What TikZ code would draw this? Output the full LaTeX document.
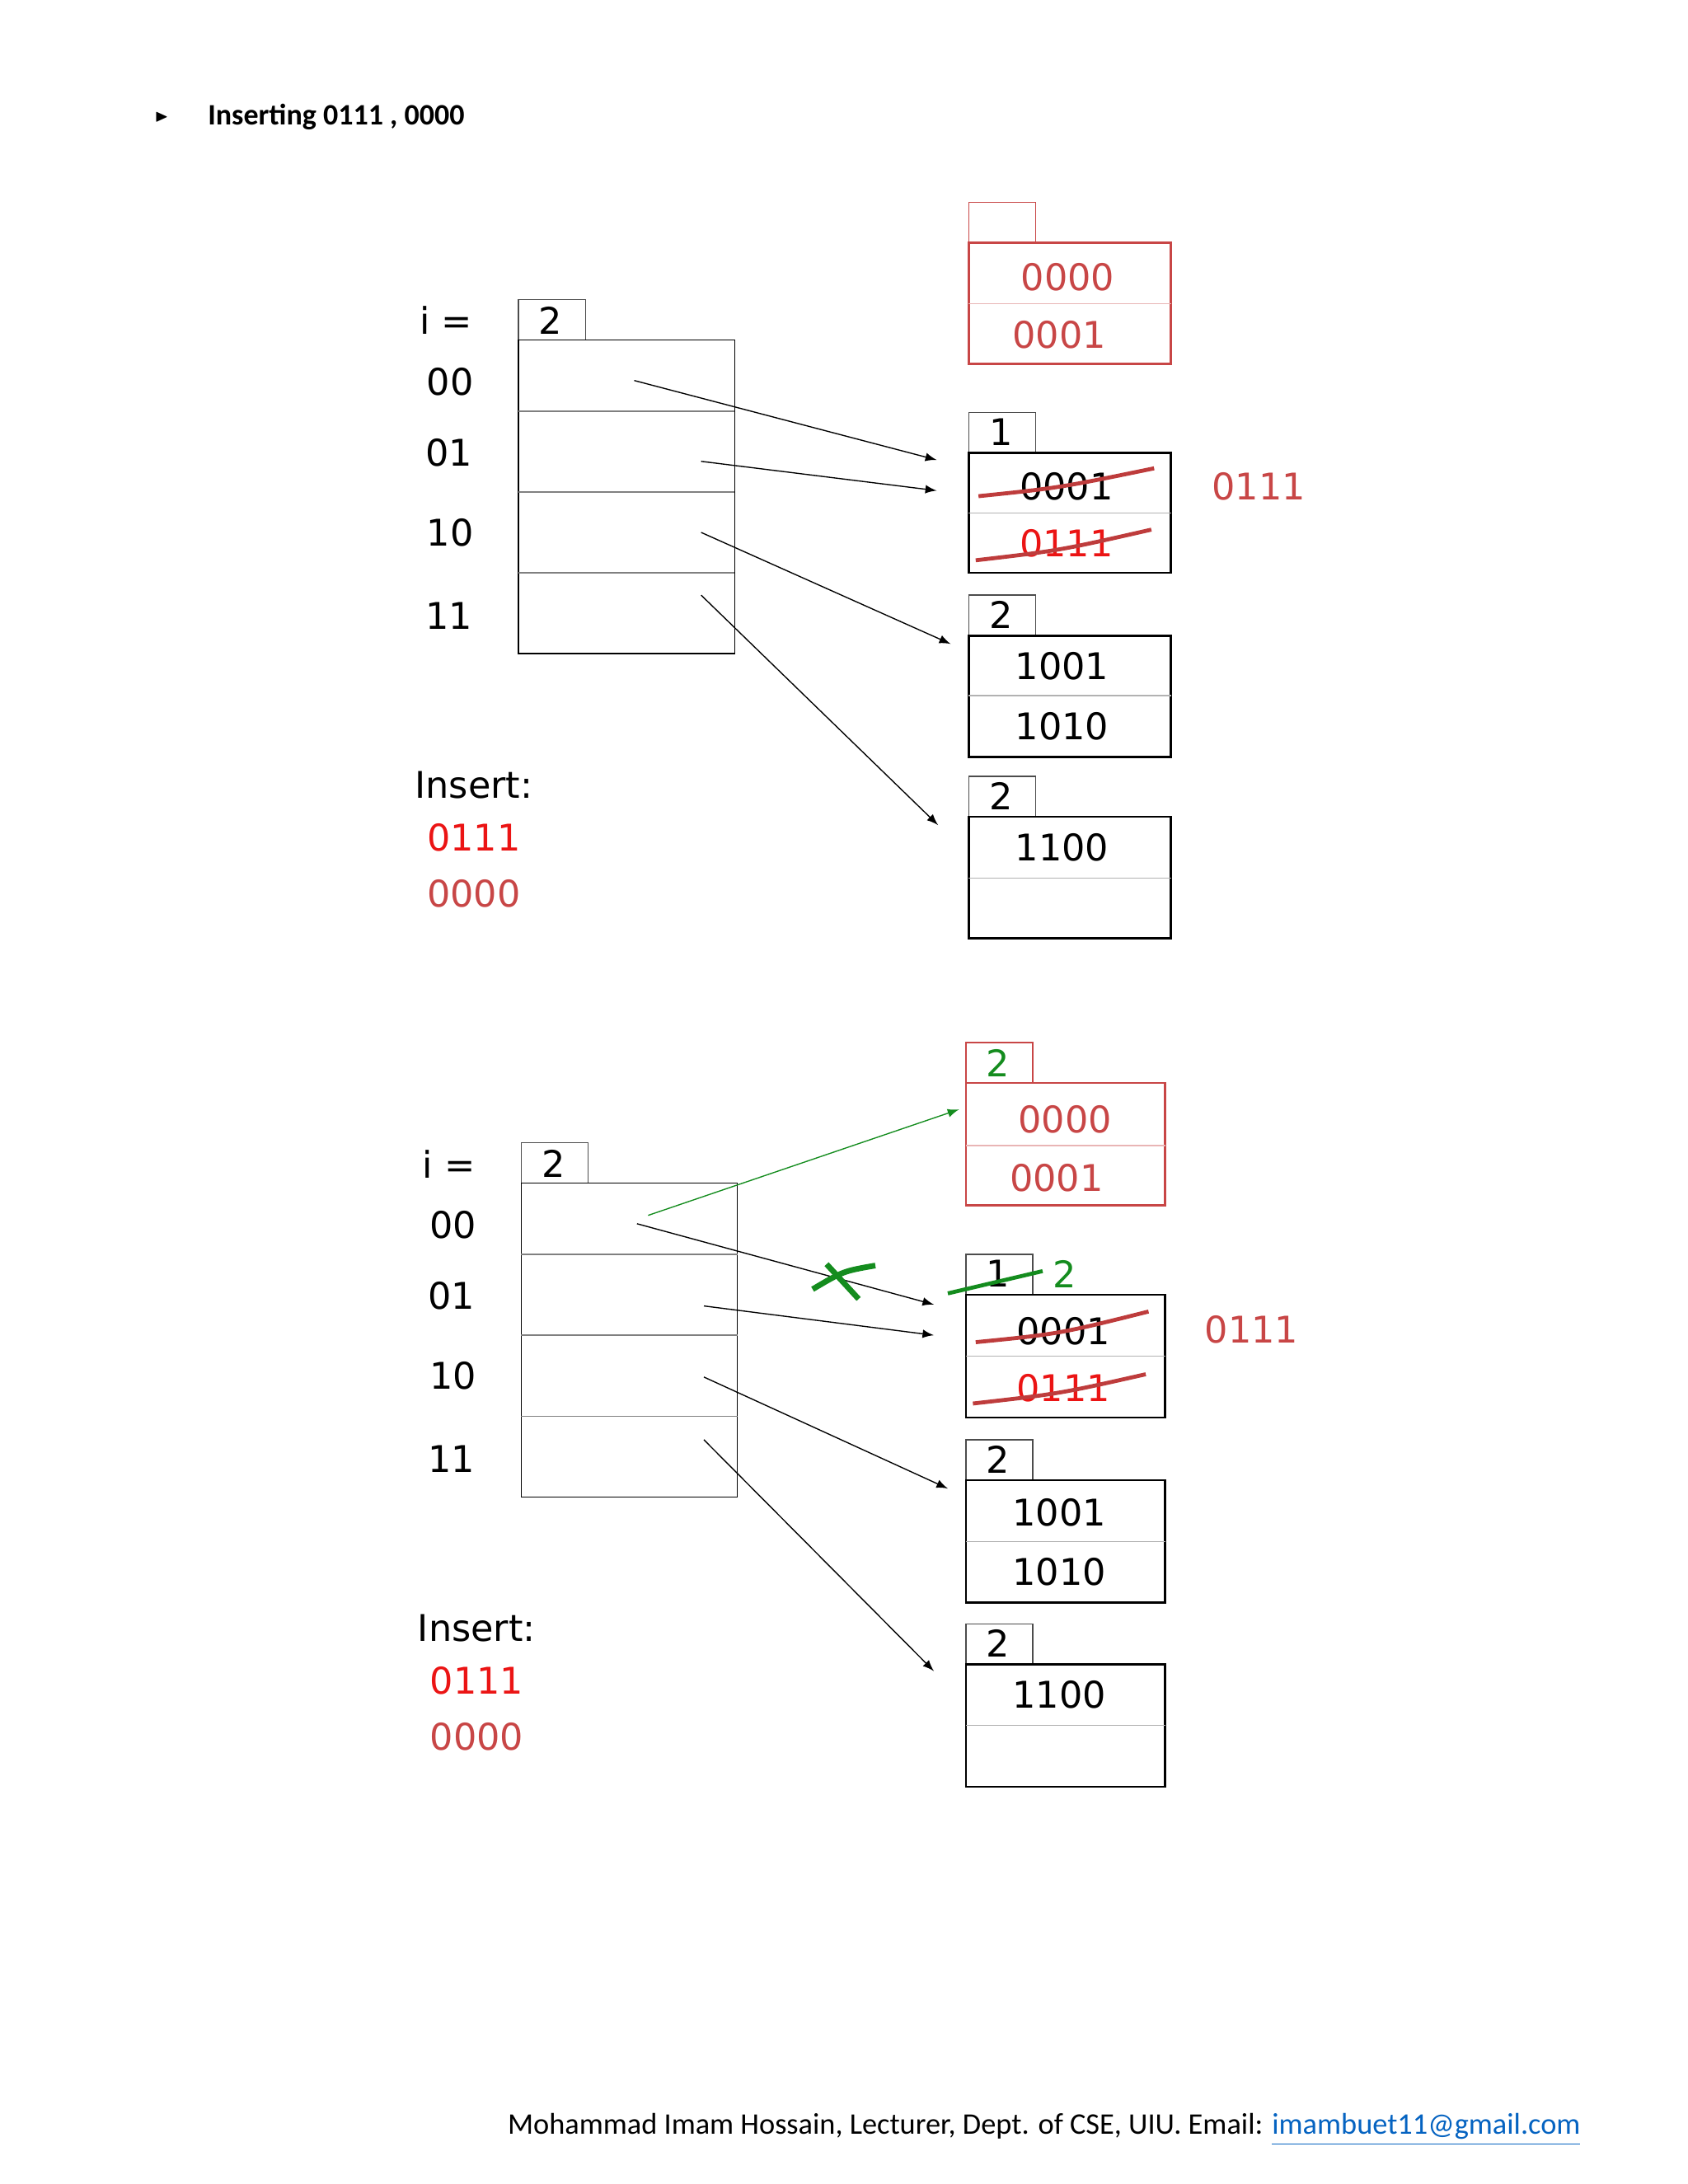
\documentclass[tikz,border=0pt]{standalone}
\usepackage{fontspec}
\usepackage{amssymb}
\setmainfont{DejaVu Sans}
\newfontfamily\calfont{Carlito}
\usetikzlibrary{positioning}
\definecolor{pinkred}{RGB}{200,70,70}
\definecolor{brightred}{RGB}{235,20,20}
\definecolor{penred}{RGB}{190,60,60}
\definecolor{pengreen}{RGB}{20,140,30}
\definecolor{linkblue}{RGB}{5,99,193}
\tikzset{
  digit/.style = {font=\fontsize{13}{15}\selectfont, inner sep=0pt},
  hdr/.style = {draw=black!70, thin},
  cell/.style = {draw=black, thick},
  redcell/.style = {draw=pinkred, thick},
  ptr/.style = {-latex, thin},
  stroke/.style = {line width=1.4pt, penred},
}
\begin{document}
\begin{tikzpicture}[x=0.01734cm, y=-0.01734cm]
\useasboundingbox (0,0) rectangle (1211,1567);
% title
\node[font=\tiny] (bul) at (116,84) {$\blacktriangleright$};
\node[font=\calfont\bfseries\fontsize{10.5}{13}\selectfont, anchor=west] (title) at (142,84) {Inserting 0111 , 0000};

\foreach \dy/\dx in {0/0, 1/1} {
  \begin{scope}[yshift={-\dy*605*0.01734cm}, xshift={\dx*2*0.01734cm}]
  % directory
  \node[digit] (ieq\dy) at (320,230) {i =};
  \draw[hdr] (372,215) rectangle (420,244);
  \node[digit] (gd\dy) at (395,230) {2};
  \draw[black] (372,244) rectangle (527,469);
  \foreach \yy in {295,353,411} \draw[black!50] (372,\yy) -- (527,\yy);
  \node[digit] (l00\dy) at (323,274) {00};
  \node[digit] (l01\dy) at (322,325) {01};
  \node[digit] (l10\dy) at (323,382) {10};
  \node[digit] (l11\dy) at (322,442) {11};
  % insert list
  \node[digit] (ins\dy) at (340,563) {Insert:};
  \node[digit, brightred] (k1\dy) at (340,601) {0111};
  \node[digit, pinkred] (k2\dy) at (340,641) {0000};
  \end{scope}
}

% buckets, top panel
\draw[redcell, thin] (695,145) rectangle (743,174);
\draw[redcell] (695,174) rectangle (840,261);
\draw[pinkred!40] (695,218) -- (840,218);
\node[digit, pinkred] (a1) at (766,199) {0000};
\node[digit, pinkred] (a2) at (760,240) {0001};

\draw[hdr] (695,296) rectangle (743,325);
\node[digit] (bd) at (718,310) {1};
\draw[cell] (695,325) rectangle (840,411);
\draw[black!30] (695,368) -- (840,368);
\node[digit] (b1) at (765,349) {0001};
\node[digit, brightred] (b2) at (765,390) {0111};
\draw[stroke] (702,356) .. controls (760,350) .. (828,336);
\draw[stroke] (700,402) .. controls (760,395) .. (826,380);
\node[digit, pinkred] (ov) at (903,349) {0111};

\draw[hdr] (695,427) rectangle (743,456);
\node[digit] (cd) at (718,441) {2};
\draw[cell] (695,456) rectangle (840,543);
\draw[black!30] (695,499) -- (840,499);
\node[digit] (c1) at (762,478) {1001};
\node[digit] (c2) at (762,521) {1010};

\draw[hdr] (695,557) rectangle (743,586);
\node[digit] (dd) at (718,571) {2};
\draw[cell] (695,586) rectangle (840,673);
\draw[black!30] (695,630) -- (840,630);
\node[digit] (d1) at (762,608) {1100};

\coordinate (p00) at (455,273); \coordinate (t00) at (672,330);
\coordinate (p01) at (503,331); \coordinate (t01) at (672,352);
\coordinate (p10) at (503,382); \coordinate (t10) at (682,462);
\coordinate (p11) at (503,427); \coordinate (t11) at (673,592);
\foreach \k in {00,01,10,11} \draw[ptr] (p\k) -- (t\k);

% buckets, bottom panel
\draw[redcell, thin] (693,748) rectangle (741,777);
\node[digit, pengreen] (ed) at (716,763) {2};
\draw[redcell] (693,777) rectangle (836,865);
\draw[pinkred!40] (693,822) -- (836,822);
\node[digit, pinkred] (e1) at (764,803) {0000};
\node[digit, pinkred] (e2) at (758,845) {0001};

\draw[hdr] (693,900) rectangle (741,929);
\node[digit] (fd) at (716,914) {1};
\node[digit, pengreen] (fn) at (764,914) {2};
\draw[line width=1.4pt, pengreen] (680,928) -- (748,912);
\draw[cell] (693,929) rectangle (836,1017);
\draw[black!30] (693,973) -- (836,973);
\node[digit] (f1) at (763,955) {0001};
\node[digit, brightred] (f2) at (763,996) {0111};
\draw[stroke] (700,963) .. controls (760,957) .. (824,941);
\draw[stroke] (698,1007) .. controls (760,1000) .. (822,986);
\node[digit, pinkred] (ov2) at (898,954) {0111};

\draw[hdr] (693,1033) rectangle (741,1062);
\node[digit] (gd) at (716,1047) {2};
\draw[cell] (693,1062) rectangle (836,1150);
\draw[black!30] (693,1106) -- (836,1106);
\node[digit] (g1) at (760,1085) {1001};
\node[digit] (g2) at (760,1128) {1010};

\draw[hdr] (693,1165) rectangle (741,1194);
\node[digit] (hd) at (716,1179) {2};
\draw[cell] (693,1194) rectangle (836,1282);
\draw[black!30] (693,1238) -- (836,1238);
\node[digit] (h1) at (760,1216) {1100};

\coordinate (q00) at (457,878); \coordinate (s00) at (670,936);
\coordinate (q01) at (505,937); \coordinate (s01) at (670,958);
\coordinate (q10) at (505,988); \coordinate (s10) at (680,1068);
\coordinate (q11) at (505,1033); \coordinate (s11) at (670,1199);
\foreach \k in {00,01,10,11} \draw[ptr] (q\k) -- (s\k);
\coordinate (qg) at (465,872); \coordinate (sg) at (688,796);
\draw[ptr, pengreen] (qg) -- (sg);
% green cross
\draw[line width=2pt, pengreen] (583,925) .. controls (605,912) .. (628,908);
\draw[line width=2pt, pengreen] (593,907) -- (616,932);

% footer
\node[font=\calfont\fontsize{10.6}{13}\selectfont, anchor=east] (foot) at (1141,1528)
  {Mohammad Imam Hossain, Lecturer, Dept. of CSE, UIU. Email: \textcolor{linkblue}{\underline{imambuet11@gmail.com}}};
\end{tikzpicture}
\end{document}
